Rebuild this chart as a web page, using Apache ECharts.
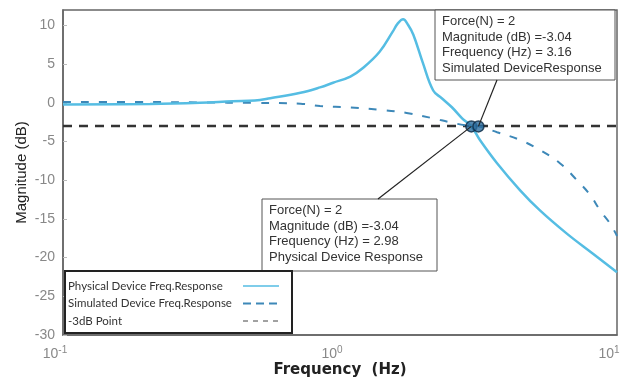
<!DOCTYPE html>
<html><head><meta charset="utf-8">
<script src="https://cdn.jsdelivr.net/npm/echarts@6/dist/echarts.min.js"></script>
<style>html,body{margin:0;padding:0;background:#fff}#c{width:624px;height:377px}</style>
</head><body><div id="c"></div>
<script>
// ---- data ----
const physFreq = [0.1, 0.206, 0.312, 0.41, 0.493, 0.56, 0.72, 0.847, 0.944, 1.09, 1.21, 1.39, 1.55, 1.62, 1.69, 1.76, 1.84, 1.99, 2.17, 2.33, 2.54, 2.76, 2.98, 3.20, 3.69, 4.47, 5.27, 6.59, 8.19, 10];
const physMag  = [-0.2, -0.15, 0.0, 0.2, 0.3, 0.6, 1.3, 2.0, 2.6, 3.4, 4.5, 6.6, 9.2, 10.3, 10.8, 10.1, 8.8, 5.2, 1.6, 0.6, -0.6, -2.0, -3.04, -4.8, -7.8, -11.3, -13.9, -16.9, -19.5, -21.9];
const simFreq  = [0.1, 0.206, 0.312, 0.493, 0.72, 0.847, 1.09, 1.4, 1.74, 2.17, 2.49, 2.83, 3.16, 3.69, 4.47, 5.27, 6.22, 7.17, 8.0, 8.69, 9.44, 10];
const simMag   = [0.1, 0.1, 0.05, 0.0, -0.1, -0.4, -0.6, -0.9, -1.3, -2.0, -2.5, -2.9, -3.04, -3.8, -4.8, -6.1, -7.8, -10.0, -11.9, -13.9, -15.6, -17.2];
const cutoffLevel = -3;
const cutoffFreqRange = [0.1, 10];
const pointFreq = [2.98, 3.16];
const pointMag  = [-3.04, -3.04];
const seriesNames = ['Physical Device Freq.Response', 'Simulated Device Freq.Response', '-3dB Point'];
const annotPhys = ['Force(N) = 2', 'Magnitude (dB) =-3.04', 'Frequency (Hz) = 2.98', 'Physical Device Response'];
const annotSim  = ['Force(N) = 2', 'Magnitude (dB) =-3.04', 'Frequency (Hz) = 3.16', 'Simulated DeviceResponse'];
const xAxisTitle = 'Frequency  (Hz)';
const yAxisTitle = 'Magnitude (dB)';

const zip = (a, b) => a.map((v, i) => [v, b[i]]);
const chart = echarts.init(document.getElementById('c'), null, {renderer: 'canvas'});
const FONT = '"Liberation Sans", Arial, sans-serif';

chart.setOption({
  animation: false,
  backgroundColor: '#fff',
  grid: {left: 63, right: 7, top: 10, bottom: 42, containLabel: false, outerBoundsMode: 'none',
         show: true, borderColor: '#666', borderWidth: 1.5, backgroundColor: 'transparent'},
  xAxis: {
    type: 'log', logBase: 10, min: 0.1, max: 10,
    name: xAxisTitle, nameLocation: 'middle', nameGap: 28, nameMoveOverlap: false,
    nameTextStyle: {fontFamily: '"DejaVu Sans", sans-serif', fontSize: 15, fontWeight: 'bold', color: '#222'},
    axisLine: {show: true, onZero: false, lineStyle: {color: '#666', width: 1.5}},
    axisTick: {show: false},
    minorTick: {show: false},
    splitLine: {show: false},
    axisLabel: {
      margin: 10, padding: [0, 16, 0, 0],
      formatter: v => '{b|10}{s|' + Math.round(Math.log10(v)) + '}',
      rich: {
        b: {fontFamily: FONT, fontSize: 14, color: '#888', verticalAlign: 'bottom', lineHeight: 16},
        s: {fontFamily: FONT, fontSize: 10, color: '#888', verticalAlign: 'top', padding: [0, 0, 8, 0], lineHeight: 16}
      }
    }
  },
  yAxis: {
    type: 'value', min: -30, max: 12, interval: 5,
    name: yAxisTitle, nameLocation: 'middle', nameGap: 34, nameMoveOverlap: false,
    nameTextStyle: {fontFamily: FONT, fontSize: 15, color: '#222'},
    axisLine: {show: true, lineStyle: {color: '#666', width: 1.5}},
    axisTick: {show: true, inside: true, length: 4, lineStyle: {color: '#bbb'}},
    splitLine: {show: false},
    axisLabel: {showMaxLabel: false, margin: 8, fontFamily: FONT, fontSize: 14, color: '#888'}
  },
  legend: {
    orient: 'vertical', left: 65, top: 271,
    padding: [9, 12, 6, 3], itemGap: 5.5, itemWidth: 36, itemHeight: 12,
    align: 'right',
    borderColor: '#222', borderWidth: 2, backgroundColor: '#fff',
    itemStyle: {opacity: 0},
    formatter: n => '{t|' + n + '}',
    textStyle: {rich: {t: {width: 170, align: 'left', fontSize: 11.5, fontFamily: 'Lato', color: '#333'}}},
    data: [
      {name: seriesNames[0], lineStyle: {width: 1.5}},
      {name: seriesNames[1], lineStyle: {type: [8, 5], width: 2}},
      {name: seriesNames[2], lineStyle: {type: [5, 5], width: 1, color: '#444'}}
    ]
  },
  series: [
    {name: seriesNames[0], type: 'line', data: zip(physFreq, physMag), symbol: 'none', smooth: 0.4,
     lineStyle: {color: '#55bde3', width: 2.5}, itemStyle: {color: '#55bde3'}, z: 3},
    {name: seriesNames[1], type: 'line', data: zip(simFreq, simMag), symbol: 'none', smooth: 0.4,
     lineStyle: {color: '#3d88b8', width: 2, type: [8, 10]}, itemStyle: {color: '#3d88b8'}, z: 2},
    {name: seriesNames[2], type: 'line', data: cutoffFreqRange.map(f => [f, cutoffLevel]), symbol: 'none',
     lineStyle: {color: '#333', width: 2.5, type: [9, 7]}, itemStyle: {color: '#333'}, z: 1},
    {name: 'points', type: 'scatter', data: zip(pointFreq, pointMag), symbol: 'circle', symbolSize: 11,
     itemStyle: {color: '#2b6b9e', borderColor: '#0d2a45', borderWidth: 1.5}, z: 5}
  ]
});

// annotation boxes (layout) with leader lines to the data points
const pPhys = chart.convertToPixel({gridIndex: 0}, [pointFreq[0], pointMag[0]]);
const pSim  = chart.convertToPixel({gridIndex: 0}, [pointFreq[1], pointMag[1]]);
function box(x, y, w, h, lines) {
  return {type: 'group', x: x, y: y, z: 50, children: [
    {type: 'rect', shape: {x: 0, y: 0, width: w, height: h}, style: {fill: '#fff', stroke: '#555', lineWidth: 1}},
    {type: 'text', x: 7, y: 4, style: {text: lines.join('\n'), font: '13px ' + FONT, fill: '#333', lineHeight: 15.5}}
  ]};
}
chart.setOption({graphic: [
  {type: 'line', z: 40, shape: {x1: 497, y1: 80, x2: pSim[0], y2: pSim[1]}, style: {stroke: '#222', lineWidth: 1.2}},
  {type: 'line', z: 40, shape: {x1: 378, y1: 199, x2: pPhys[0], y2: pPhys[1]}, style: {stroke: '#222', lineWidth: 1.2}},
  box(435, 10, 180, 70, annotSim),
  box(262, 199, 175, 72, annotPhys)
]});
</script></body></html>
